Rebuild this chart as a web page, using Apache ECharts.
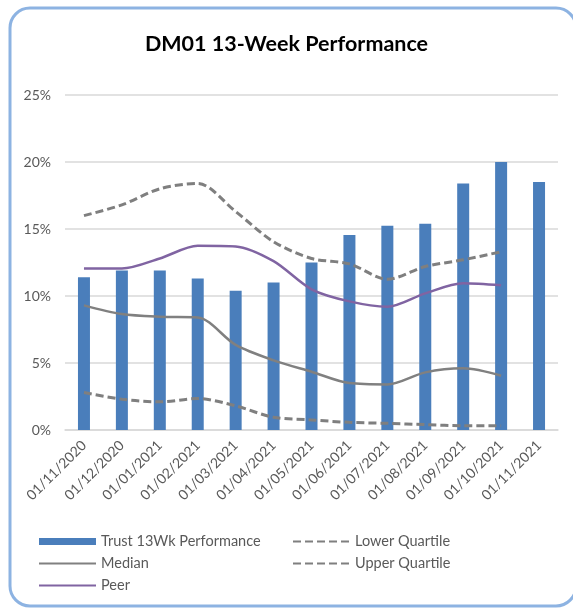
<!DOCTYPE html>
<html>
<head>
<meta charset="utf-8">
<script src="https://cdn.jsdelivr.net/npm/echarts@6/dist/echarts.min.js"></script>
<style>
  html, body { margin: 0; padding: 0; background: #fff; }
  #main { width: 573px; height: 612px; }
</style>
</head>
<body>
<div id="main"></div>
<script>
// month labels on the x axis
const months = ['01/11/2020', '01/12/2020', '01/01/2021', '01/02/2021', '01/03/2021', '01/04/2021',
  '01/05/2021', '01/06/2021', '01/07/2021', '01/08/2021', '01/09/2021', '01/10/2021', '01/11/2021']
// values in percent
const trust = [11.4, 11.9, 11.9, 11.3, 10.4, 11.0, 12.5, 14.55, 15.25, 15.4, 18.4, 20.0, 18.5]
const median = [9.3, 8.65, 8.45, 8.4, 6.35, 5.2, 4.35, 3.5, 3.4, 4.3, 4.6, 4.05]
const peer = [12.05, 12.05, 12.8, 13.75, 13.7, 12.6, 10.5, 9.6, 9.2, 10.2, 10.95, 10.8]
const lowerQ = [2.8, 2.3, 2.1, 2.35, 1.8, 0.95, 0.75, 0.57, 0.5, 0.4, 0.32, 0.32]
const upperQ = [16.0, 16.8, 18.0, 18.4, 16.3, 14.05, 12.8, 12.4, 11.25, 12.2, 12.7, 13.3]
const yTicks = [0, 5, 10, 15, 20, 25]

const font = 'Lato'
const grey = '#595959'
// hide the dot that echarts puts on line legend icons
const noDot = {opacity: 0}

let chart = echarts.init(document.getElementById('main'))
chart.setOption({
  animation: false,
  textStyle: {fontFamily: font},
  title: {
    text: 'DM01 13-Week Performance',
    left: 'center',
    top: 28,
    textStyle: {fontSize: 21.5, fontWeight: 'bold', color: '#000', fontFamily: font}
  },
  graphic: [{
    type: 'rect',
    shape: {x: 10, y: 8, width: 566, height: 598, r: 20},
    style: {fill: 'none', stroke: '#8db3e2', lineWidth: 3},
    z: 100
  }],
  legend: [
    {
      data: [
        {name: 'Trust 13Wk Performance', icon: 'rect'},
        {name: 'Median', itemStyle: noDot},
        {name: 'Peer', itemStyle: noDot}
      ],
      orient: 'vertical',
      left: 33,
      top: 529,
      itemWidth: 57,
      itemHeight: 7,
      itemGap: 7,
      textStyle: {fontSize: 14.5, color: grey, fontFamily: font}
    },
    {
      data: [
        {name: 'Lower Quartile', itemStyle: noDot},
        {name: 'Upper Quartile', itemStyle: noDot}
      ],
      orient: 'vertical',
      left: 287,
      top: 529,
      itemWidth: 57,
      itemHeight: 7,
      itemGap: 7,
      textStyle: {fontSize: 14.5, color: grey, fontFamily: font}
    }
  ],
  grid: {left: 65, right: 15, top: 95, bottom: 182},
  xAxis: {
    type: 'category',
    data: months,
    axisTick: {show: false},
    axisLine: {lineStyle: {color: '#d9d9d9', width: 1.5}},
    axisLabel: {rotate: 45, fontSize: 14, color: grey, margin: 13, interval: 0}
  },
  yAxis: {
    type: 'value',
    min: yTicks[0],
    max: yTicks[yTicks.length - 1],
    interval: 5,
    axisLabel: {formatter: '{value}%', fontSize: 14, color: grey, margin: 14},
    splitLine: {lineStyle: {color: '#d9d9d9', width: 1.5}}
  },
  series: [
    {
      name: 'Trust 13Wk Performance',
      type: 'bar',
      data: trust,
      barWidth: 12,
      itemStyle: {color: '#4a7ebb'}
    },
    {
      name: 'Lower Quartile',
      type: 'line',
      data: lowerQ,
      smooth: 0.3,
      symbol: 'none',
      lineStyle: {color: '#7f7f7f', width: 3, type: [8, 4]},
      itemStyle: {color: '#7f7f7f'}
    },
    {
      name: 'Upper Quartile',
      type: 'line',
      data: upperQ,
      smooth: 0.3,
      symbol: 'none',
      lineStyle: {color: '#7f7f7f', width: 3, type: [8, 4]},
      itemStyle: {color: '#7f7f7f'}
    },
    {
      name: 'Median',
      type: 'line',
      data: median,
      smooth: 0.3,
      symbol: 'none',
      lineStyle: {color: '#808080', width: 2.5},
      itemStyle: {color: '#808080'}
    },
    {
      name: 'Peer',
      type: 'line',
      data: peer,
      smooth: 0.3,
      symbol: 'none',
      lineStyle: {color: '#8064a2', width: 2.5},
      itemStyle: {color: '#8064a2'}
    }
  ]
})
</script>
</body>
</html>
